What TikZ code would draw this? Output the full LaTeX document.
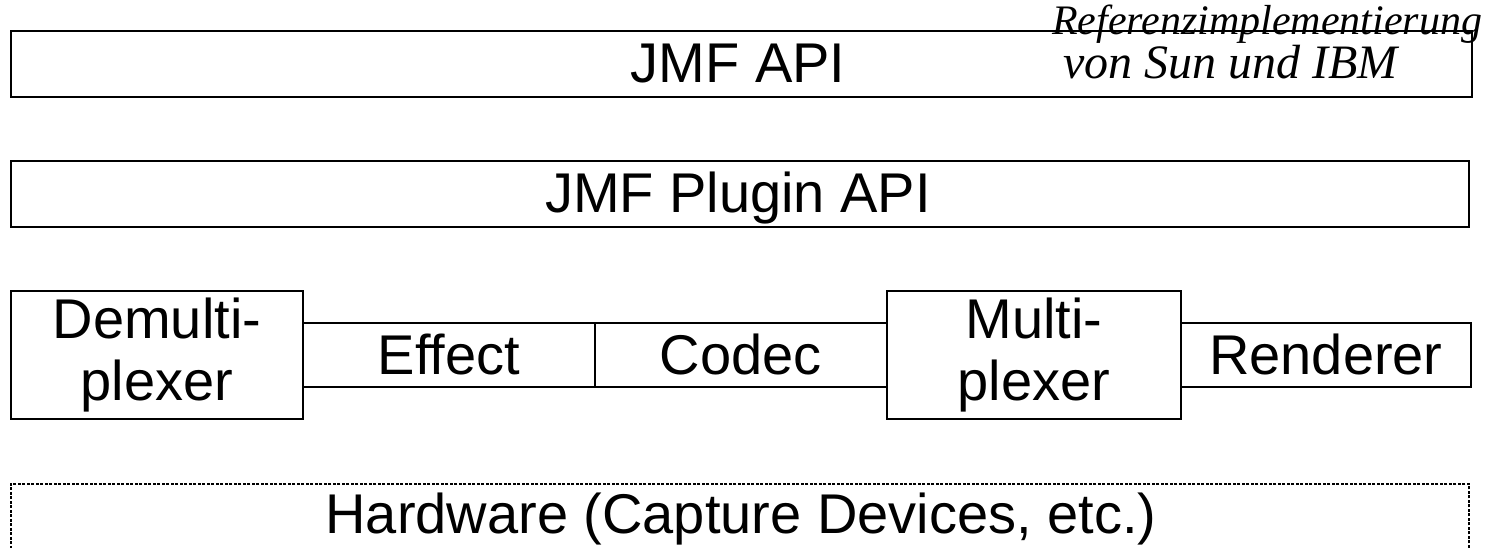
\documentclass[tikz,border=0pt]{standalone}
\usepackage{fontspec}
\setmainfont{Liberation Sans}
\newfontfamily\notefont{Liberation Serif}
\begin{document}
\begin{tikzpicture}[x=1pt,y=-1pt,
  layer/.style={draw, line width=1.8pt, rectangle, inner sep=0pt, anchor=north west},
  hwbox/.style={draw, line width=1.5pt, dash pattern=on 3pt off 1.5pt, rectangle, inner sep=0pt, anchor=north west},
  label/.style={font=\fontsize{56}{62}\selectfont, inner sep=0pt, align=center},
  note/.style={font=\notefont\itshape\fontsize{#1}{#1}\selectfont, inner sep=0pt, anchor=base west}]
\useasboundingbox (0,0) rectangle (1494,548);
\clip (0,0) rectangle (1494,548);

% top layer: application API
\node[layer, minimum width=1461pt, minimum height=66pt] (api) at (10,30) {};
\node[label, anchor=base] (apitext) at (738,83) {JMF API};
\node[note=42] (ref1) at (1052,35) {Referenzimplementierung};
\node[note=48] (ref2) at (1063,79) {von Sun und IBM};

% plugin layer
\node[layer, minimum width=1458pt, minimum height=66pt] (plugin) at (10,160) {};
\node[label, anchor=base] (plugintext) at (738,213) {JMF Plugin API};

% processing components
\node[layer, minimum width=292pt, minimum height=128pt] (demux) at (10,290) {};
\node[layer, minimum width=292pt, minimum height=64pt] (effect) at (302,322) {};
\node[layer, minimum width=292pt, minimum height=64pt] (codec) at (594,322) {};
\node[layer, minimum width=294pt, minimum height=128pt] (mux) at (886,290) {};
\node[layer, minimum width=290pt, minimum height=64pt] (render) at (1180,322) {};
\node[label] (demuxtext) at (demux.center) {Demulti-\\plexer};
\node[label] (effecttext) at (effect.center) {Effect};
\node[label] (codectext) at (codec.center) {Codec};
\node[label] (muxtext) at (mux.center) {Multi-\\plexer};
\node[label] (rendertext) at (render.center) {Renderer};

% hardware layer, open towards the bottom
\node[hwbox, minimum width=1458pt, minimum height=100pt] (hw) at (10,483) {};
\node[label, anchor=base] (hwtext) at (741,533) {Hardware (Capture Devices, etc.)};
\end{tikzpicture}
\end{document}
